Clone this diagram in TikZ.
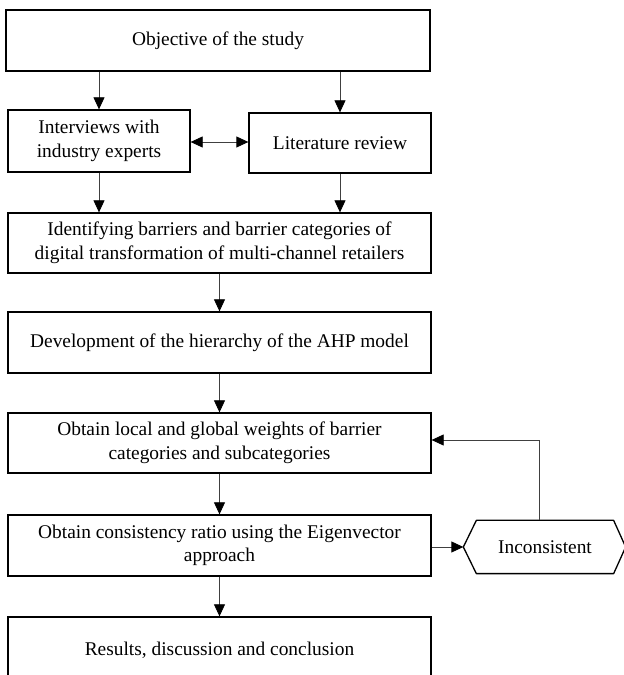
\documentclass[tikz,border=0pt]{standalone}
\usepackage{fontspec}
\setmainfont{Liberation Serif}
\usetikzlibrary{arrows.meta}

\begin{document}
\begin{tikzpicture}[x=1pt, y=1pt,
    stage/.style={draw, line width=1.3pt, minimum width=423pt, inner sep=0pt, align=center,
        font=\fontsize{19.4}{23.5}\selectfont},
    flow/.style={line width=0.8pt, color=black!75, -{Triangle[length=12pt, width=11pt, color=black]}},
    twoway/.style={line width=0.8pt, color=black!75, {Triangle[length=12pt, width=11pt, color=black]}-{Triangle[length=12pt, width=11pt, color=black]}}]
    \useasboundingbox (0,0) rectangle (624,675);

    \node[stage, minimum width=424pt, minimum height=61pt] (obj) at (218,634.5) {Objective of the study};
    \node[stage, minimum width=182pt, minimum height=62pt] (intv) at (99,534) {Interviews with\\industry experts};
    \node[stage, minimum width=182pt, minimum height=60pt] (lit) at (340,532) {Literature review};
    \node[stage, minimum height=60pt] (ident) at (219.5,432) {Identifying barriers and barrier categories of\\digital transformation of multi-channel retailers};
    \node[stage, minimum height=61pt] (dev) at (219.5,332.5) {Development of the hierarchy of the AHP model};
    \node[stage, minimum height=60pt] (local) at (219.5,232) {Obtain local and global weights of barrier\\categories and subcategories};
    \node[stage, minimum height=61pt] (cons) at (219.5,129.5) {Obtain consistency ratio using the Eigenvector\\approach};
    \node[stage, minimum height=66pt] (res) at (219.5,25) {Results, discussion and conclusion};
    % hexagon drawn round a plain node
    \node[stage, draw=none, minimum width=136pt, minimum height=52pt] (incon) at (545,128) {Inconsistent};
    \draw[line width=1.3pt, line join=round] (incon.north west) -- (incon.north east) -- ([xshift=12pt]incon.east)
        -- (incon.south east) -- (incon.south west) -- ([xshift=-13pt]incon.west) -- cycle;

    \draw[flow] (obj.south -| intv.north) -- (intv.north);
    \draw[flow] (obj.south -| lit.north) -- (lit.north);
    \draw[twoway] (intv.east |- 0,533) -- (lit.west |- 0,533);
    \draw[flow] (intv.south) -- (intv.south |- ident.north);
    \draw[flow] (lit.south) -- (lit.south |- ident.north);
    \draw[flow] (ident) -- (dev);
    \draw[flow] (dev) -- (local);
    \draw[flow] (local) -- (cons);
    \draw[flow] (cons) -- (res);
    \draw[flow] (cons.east |- incon.west) -- ([xshift=-13pt]incon.west);
    \draw[flow] ([xshift=-6pt]incon.north) |- ([yshift=3pt]local.east);
\end{tikzpicture}
\end{document}
